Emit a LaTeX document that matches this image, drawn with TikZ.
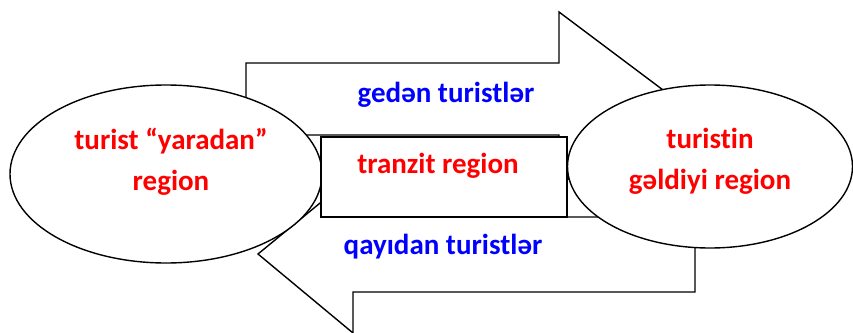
\documentclass[tikz,border=0pt]{standalone}
\usepackage{fontspec}
\setmainfont[Ligatures={NoCommon}]{Carlito}
\usetikzlibrary{shapes.geometric}
\definecolor{lblred}{RGB}{255,0,0}
\definecolor{lblblue}{RGB}{0,0,255}
\tikzset{
  shp/.style={draw=black, fill=white, line width=1.4pt, line join=miter},
  redtxt/.style={text=lblred, font=\fontsize{29}{41}\selectfont\bfseries, align=center},
  bluetxt/.style={text=lblblue, font=\fontsize{29}{34}\selectfont\bfseries},
  region/.style={shp, ellipse, inner sep=0pt}
}
\begin{document}
\begin{tikzpicture}[x=1pt,y=-1pt]
\useasboundingbox (0,0) rectangle (853,332);
% outgoing arrow
\draw[shp] (246,63) -- (559,63) -- (559,12) -- (675,99) -- (559,186) -- (559,135) -- (246,135) -- cycle;
% returning arrow
\draw[shp] (695,217) -- (695,292) -- (353,292) -- (353,333) -- (258,254) -- (353,176) -- (353,217) -- cycle;
% regions
\node[region, minimum width=312pt, minimum height=178pt] (origin) at (166,174) {};
\node[region, minimum width=285pt, minimum height=163pt] (dest) at (710,166.5) {};
\node[shp, rectangle, minimum width=246pt, minimum height=80pt, inner sep=0pt] (transit) at (444,177) {};
% labels
\node[redtxt] (origintxt) at (171,162) {turist “yaradan”\\region};
\node[redtxt] (desttxt) at (710,161) {turistin\\gəldiyi region};
\node[redtxt] (transittxt) at (438,166) {tranzit region};
\node[bluetxt] (out) at (446,95) {gedən turistlər};
\node[bluetxt] (ret) at (443,247) {qayıdan turistlər};
\end{tikzpicture}
\end{document}
